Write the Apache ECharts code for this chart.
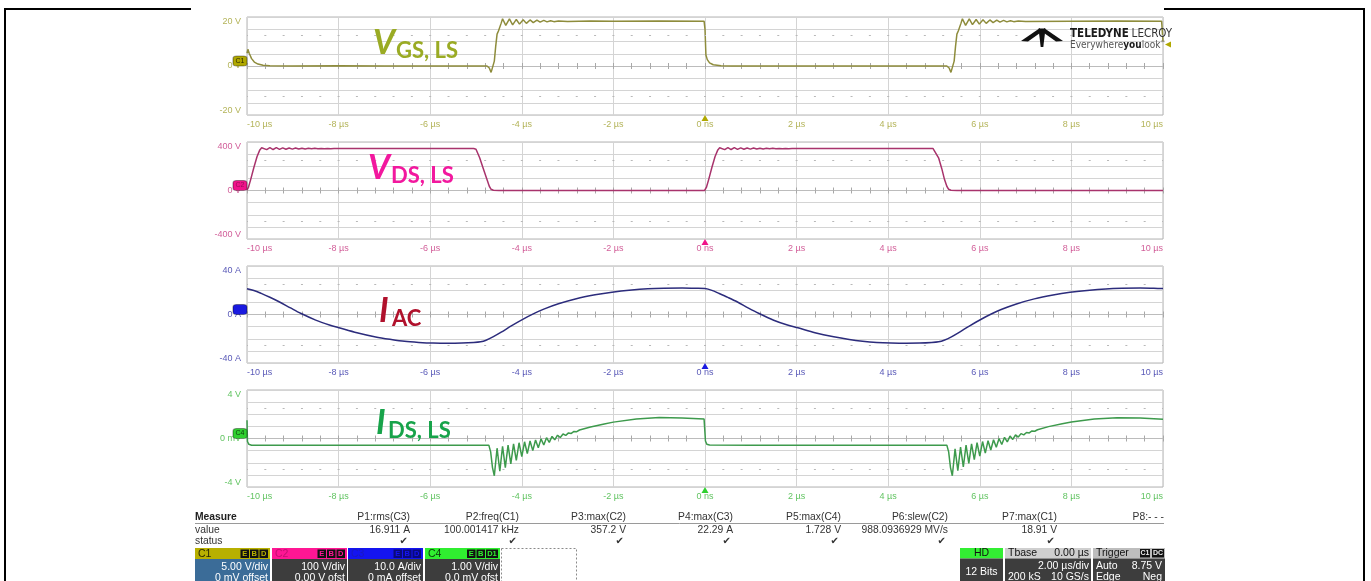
<!DOCTYPE html>
<html><head><meta charset="utf-8">
<script src="https://cdn.jsdelivr.net/npm/echarts@6/dist/echarts.min.js"></script>
<style>html,body{margin:0;padding:0;background:#fff}#c{width:1371px;height:581px}</style>
</head><body><div id="c"></div>
<script>
// ---------------- DATA (time in µs) ----------------
const timeTicks = [-10,-8,-6,-4,-2,0,2,4,6,8,10];
const xTickLabels = ['-10 µs','-8 µs','-6 µs','-4 µs','-2 µs','0 ns','2 µs','4 µs','6 µs','8 µs','10 µs'];
const vgsYLabels = ['20 V','0 V','-20 V'];
const vdsYLabels = ['400 V','0 V','-400 V'];
const iacYLabels = ['40 A','0 A','-40 A'];
const idsYLabels = ['4 V','0 mV','-4 V'];
const voltsPerDiv = [5, 100, 10, 1];
const triggerLevel = 8.75;

const vgsData = [
[-10,5.2],[-9.98,6.8],[-9.95,5.1],[-9.9,3.0],[-9.84,1.6],[-9.76,0.8],[-9.65,0.3],[-9.5,0.1],[-9,0],[-8,0.1],[-7,0],[-6,0.05],[-5,0],
[-4.76,0],[-4.71,-0.8],[-4.67,-2.6],[-4.63,-1.8],[-4.6,2],[-4.57,8],[-4.54,13],[-4.51,14.3],[-4.48,14.8],[-4.45,17.5],[-4.42,19.3],
[-4.35,16.6],[-4.27,19.2],[-4.2,16.8],[-4.12,19.0],[-4.05,17.1],[-3.97,18.9],[-3.9,17.4],[-3.82,18.8],[-3.75,17.7],[-3.67,18.7],[-3.6,17.9],[-3.52,18.6],[-3.45,18.0],[-3.37,18.5],[-3.3,18.1],[-3.2,18.4],[-3.0,18.2],[-2.5,18.35],[-2,18.3],[-1,18.35],[-0.02,18.3],
[0,15],[0.02,4.5],[0.05,2.6],[0.1,1.3],[0.18,0.5],[0.35,0.15],[0.6,0],[1,0.05],[2,0],[3,0.05],[4,0],[5.28,0],
[5.33,-0.8],[5.37,-2.6],[5.41,-1.8],[5.44,2],[5.47,8],[5.5,13],[5.53,14.3],[5.56,14.8],[5.59,17.5],[5.62,19.3],
[5.69,16.6],[5.77,19.2],[5.84,16.9],[5.92,19.0],[5.99,17.1],[6.07,18.9],[6.14,17.4],[6.22,18.8],[6.29,17.7],[6.37,18.7],[6.44,17.9],[6.52,18.6],[6.59,18.0],[6.67,18.5],[6.74,18.1],[6.84,18.4],[7,18.2],[8,18.3],[9,18.35],[9.97,18.3],[10,10]
];

const vdsData = [
[-10,2],[-9.97,25],[-9.92,90],[-9.85,190],[-9.78,280],[-9.72,335],[-9.68,352],[-9.64,357],
[-9.57,337],[-9.5,354],[-9.43,338],[-9.36,353],[-9.29,339],[-9.22,352],[-9.15,340],[-9.08,351],[-9.01,341],[-8.94,350],[-8.87,342],[-8.8,349],[-8.73,343],[-8.66,348],[-8.59,344],[-8.52,348],[-8.45,344],[-8.38,347],[-8.31,345],[-8.24,347],[-8.17,345],[-8.1,346.5],[-8,346],[-7,346],[-6,346],[-5.05,346],
[-5.0,340],[-4.92,270],[-4.84,180],[-4.76,90],[-4.71,35],[-4.67,10],[-4.62,2],[-4.5,0],[-3,1],[-1.5,0],[-0.01,0],
[0,2],[0.03,25],[0.08,90],[0.15,190],[0.22,280],[0.28,335],[0.32,352],[0.36,357],
[0.43,337],[0.5,354],[0.57,338],[0.64,353],[0.71,339],[0.78,352],[0.85,340],[0.92,351],[0.99,341],[1.06,350],[1.13,342],[1.2,349],[1.27,343],[1.34,348],[1.41,344],[1.48,348],[1.55,344],[1.62,347],[1.69,345],[1.76,347],[1.83,345],[1.9,346.5],[2,346],[3,346],[4,346],[4.98,346],
[5.02,340],[5.1,270],[5.17,180],[5.23,90],[5.28,35],[5.32,10],[5.37,2],[5.5,0],[7,1],[8.5,0],[10,0]
];

const iacData = [
[-10,21.3],[-9.85,19.8],[-9.69,17.4],[-9.5,14.2],[-9.3,10.5],[-9.05,5.4],[-8.83,1.0],[-8.5,-4.6],[-8.2,-8.6],[-7.97,-11.1],[-7.6,-15.0],[-7.19,-18.5],[-6.85,-20.6],[-6.56,-22.1],[-6.25,-23.0],[-5.94,-23.6],[-5.6,-23.8],[-5.31,-23.6],[-5.05,-23.1],[-4.9,-22.5],
[-4.78,-21.2],[-4.62,-18.3],[-4.45,-14.6],[-4.22,-9.2],[-3.98,-4.0],[-3.75,0.5],[-3.52,4.4],[-3.2,8.8],[-2.81,13.0],[-2.4,16.2],[-2.03,18.4],[-1.6,20.2],[-1.25,21.2],[-0.9,21.7],[-0.5,21.9],[-0.2,21.7],[0,21.4],
[0.15,19.9],[0.31,17.3],[0.5,14.1],[0.7,10.5],[0.95,5.3],[1.17,1.0],[1.5,-4.7],[1.8,-8.7],[2.03,-11.0],[2.4,-15.0],[2.81,-18.4],[3.15,-20.6],[3.44,-22.0],[3.75,-23.0],[4.06,-23.5],[4.4,-23.7],[4.69,-23.6],[4.95,-23.1],[5.1,-22.5],
[5.22,-21.2],[5.38,-18.4],[5.55,-14.7],[5.78,-9.3],[6.02,-4.1],[6.25,0.4],[6.48,4.3],[6.8,8.7],[7.19,12.9],[7.6,16.1],[7.97,18.3],[8.4,20.1],[8.75,21.1],[9.1,21.6],[9.5,21.8],[9.8,21.6],[10,21.4]
];

const idsData = [
[-10,1.5],[-9.99,-0.25],[-9.96,-0.48],[-9.9,-0.55],[-8,-0.55],[-6,-0.56],[-4.72,-0.55],[-4.68,-1.1],[-4.64,-2.4],[-4.6,-3.07],
[-4.54,-0.8],[-4.48,-2.7],[-4.42,-0.65],[-4.36,-2.4],[-4.3,-0.55],[-4.24,-2.1],[-4.18,-0.45],[-4.12,-1.8],[-4.06,-0.35],[-4.0,-1.5],[-3.94,-0.27],[-3.88,-1.24],[-3.82,-0.2],[-3.76,-1.0],[-3.7,-0.12],[-3.64,-0.77],[-3.58,-0.03],[-3.52,-0.54],[-3.46,0.07],[-3.4,-0.32],[-3.34,0.17],[-3.28,-0.11],[-3.22,0.27],[-3.16,0.08],[-3.1,0.37],[-3.04,0.26],[-2.98,0.46],[-2.92,0.42],[-2.86,0.58],[-2.8,0.56],[-2.74,0.7],
[-2.5,0.95],[-2.2,1.2],[-2,1.35],[-1.5,1.6],[-1,1.73],[-0.5,1.7],[-0.02,1.6],
[0,1.55],[0.01,-0.2],[0.04,-0.47],[0.1,-0.54],[1,-0.55],[3,-0.56],[5.28,-0.55],[5.32,-1.1],[5.36,-2.4],[5.4,-3.07],
[5.46,-0.85],[5.52,-2.65],[5.58,-0.7],[5.64,-2.35],[5.7,-0.55],[5.76,-2.05],[5.82,-0.45],[5.88,-1.75],[5.94,-0.35],[6.0,-1.45],[6.06,-0.25],[6.12,-1.2],[6.18,-0.18],[6.24,-0.95],[6.3,-0.1],[6.36,-0.72],[6.42,0],[6.48,-0.5],[6.54,0.1],[6.6,-0.28],[6.66,0.2],[6.72,-0.08],[6.78,0.3],[6.84,0.12],[6.9,0.4],[6.96,0.3],[7.02,0.5],[7.08,0.46],[7.14,0.62],[7.2,0.6],[7.26,0.72],
[7.5,0.98],[7.8,1.22],[8,1.36],[8.5,1.6],[9,1.72],[9.5,1.7],[10,1.58]
];

const measureHeaders = ['P1:rms(C3)','P2:freq(C1)','P3:max(C2)','P4:max(C3)','P5:max(C4)','P6:slew(C2)','P7:max(C1)','P8:- - -'];
const measureValues  = ['16.911 A','100.001417 kHz','357.2 V','22.29 A','1.728 V','988.0936929 MV/s','18.91 V',''];
const measureStatus  = [true,true,true,true,true,true,true,false];
const chanNames  = ['C1','C2','C3','C4'];
const chanScale  = ['5.00 V/div','100 V/div','10.0 A/div','1.00 V/div'];
const chanOffset = ['0 mV offset','0.00 V ofst','0 mA offset','0.0 mV ofst'];
const chanFlags  = [['E','B','D'],['E','B','D'],['E','B','D'],['E','B','D1']];

// ---------------- STYLE / LAYOUT ----------------
const FONT = '"Liberation Sans", Arial, sans-serif';
const NARROW = '"Liberation Sans Narrow","DejaVu Sans Condensed","Liberation Sans",sans-serif';
const ANNO = 'Lato, "Open Sans", sans-serif';
const panelTops = [17, 142, 266, 390];
const panelHeights = [98, 97, 97, 97];
const traceColors = ['#8e8c3c', '#a8336c', '#2c2c7c', '#3d9a4c'];
const labelColors = ['#b4b45a', '#d2609a', '#5a5ab8', '#62c462'];
const badgeColors = ['#b0a800', '#f0148a', '#1a1ae0', '#2fd02f'];
const badgeText = ['#2c2a00', '#9c0c5a', '#1a1ae0', '#0c3c0c'];
const datasets = [vgsData, vdsData, iacData, idsData];
const yLabelSets = [vgsYLabels, vdsYLabels, iacYLabels, idsYLabels];

const grid = [], xAxis = [], yAxis = [], series = [];
for (let k = 0; k < 4; k++) {
  const div = voltsPerDiv[k], ymax = 4 * div, ymin = -4 * div;
  const labs = yLabelSets[k];
  grid.push({left: 247, width: 916, top: panelTops[k], height: panelHeights[k], show: true,
    borderColor: '#b4b4b4', borderWidth: 1, backgroundColor: '#fff'});
  xAxis.push({gridIndex: k, type: 'value', min: -10, max: 10, interval: 2, position: 'bottom',
    axisLine: {show: false, onZero: false}, axisTick: {show: false},
    splitLine: {show: true, lineStyle: {color: '#d4d4d4', width: 1}},
    axisLabel: {color: labelColors[k], fontSize: 9, fontFamily: FONT, margin: 5,
      alignMinLabel: 'left', alignMaxLabel: 'right',
      formatter: v => { const i = timeTicks.indexOf(Math.round(v)); return i >= 0 ? xTickLabels[i] : ''; }}});
  xAxis.push({gridIndex: k, type: 'value', min: -10, max: 10, interval: 2, position: 'bottom',
    axisLine: {show: true, onZero: true, onZeroAxisIndex: k, lineStyle: {color: '#bcbcbc', width: 1}},
    axisTick: {show: true, inside: true, length: 3, lineStyle: {color: '#a8a8a8'}},
    minorTick: {show: true, splitNumber: 5, length: 3, lineStyle: {color: '#a8a8a8'}},
    axisLabel: {show: false}, splitLine: {show: false}});
  xAxis.push({gridIndex: k, type: 'value', min: -10, max: 10, interval: 2, position: 'bottom',
    axisLine: {show: false, onZero: true, onZeroAxisIndex: k},
    axisTick: {show: true, inside: false, length: 3, lineStyle: {color: '#a8a8a8'}},
    minorTick: {show: true, splitNumber: 5, length: 3, lineStyle: {color: '#a8a8a8'}},
    axisLabel: {show: false}, splitLine: {show: false}});
  yAxis.push({gridIndex: k, type: 'value', min: ymin, max: ymax, interval: div,
    axisLine: {show: false, onZero: false}, axisTick: {show: false},
    splitLine: {show: true, lineStyle: {color: '#d4d4d4', width: 1}},
    axisLabel: {color: labelColors[k], fontSize: 9, fontFamily: FONT, margin: 6,
      verticalAlignMaxLabel: 'top', verticalAlignMinLabel: 'bottom',
      formatter: v => v === ymax ? labs[0] : (v === 0 ? labs[1] : (v === ymin ? labs[2] : ''))}});
  const mp = [
    {coord: [-10, 0], symbol: 'roundRect', symbolSize: [14, 10], symbolOffset: [-7, -5],
      itemStyle: {color: badgeColors[k], borderColor: 'rgba(0,0,0,0.35)', borderWidth: 1},
      label: {show: true, position: 'inside', formatter: chanNames[k], fontSize: 7, fontFamily: FONT, color: badgeText[k]}},
    {coord: [0, ymin], symbol: 'triangle', symbolSize: [7, 6], symbolOffset: [0, 3],
      itemStyle: {color: badgeColors[k]}, label: {show: false}}
  ];
  if (k === 0) mp.push({coord: [10, triggerLevel], symbol: 'triangle', symbolRotate: 90, symbolSize: [6, 6], symbolOffset: [5, 0],
      itemStyle: {color: '#b0a800'}, label: {show: false}});
  series.push({type: 'line', xAxisIndex: 3 * k, yAxisIndex: k, data: datasets[k], showSymbol: false,
    smooth: k === 2 ? 0.3 : false, animation: false, silent: true,
    lineStyle: {color: traceColors[k], width: 1.5}, z: 3,
    markLine: {silent: true, symbol: 'none', animation: false, label: {show: false},
      lineStyle: {color: '#b8b8b8', width: 1, type: [2, 16.32], dashOffset: 1},
      data: [{yAxis: 2.5 * div}, {yAxis: -2.5 * div}]},
    markPoint: {silent: true, animation: false, data: mp}});
}

// ---------------- GRAPHICS (frame, annotations, logo, table) ----------------
const G = [];
function T(x, y, text, o) {
  o = o || {};
  G.push({type: 'text', x: x, y: y, silent: true, z: o.z || 20,
    style: {text: text, fill: o.fill || '#222', fontSize: o.size || 10.3, fontFamily: o.family || FONT,
      fontWeight: o.weight || 'normal', fontStyle: o.style || 'normal',
      align: o.align || 'left', verticalAlign: 'middle', rich: o.rich}});
}
function R(x, y, w, h, fill, o) {
  o = o || {};
  G.push({type: 'rect', silent: true, z: o.z || 15, shape: {x: x, y: y, width: w, height: h},
    style: {fill: fill, stroke: o.stroke || null, lineWidth: o.lw || 1, lineDash: o.dash || null}});
}
function L(x1, y1, x2, y2, c, w) {
  G.push({type: 'line', silent: true, z: 15, shape: {x1: x1, y1: y1, x2: x2, y2: y2}, style: {stroke: c, lineWidth: w}});
}
// frame
L(5, 9, 5, 581, '#000', 2);
L(1364, 9, 1364, 581, '#000', 2);
L(4, 9, 191, 9, '#000', 2);
L(1164, 9, 1365, 9, '#000', 2);

// annotations
const annos = [
  {c: '#9aab24', main: 'V', sub: 'GS, LS', mx: 373, my: 43, sx: 396, sy: 51},
  {c: '#f2189e', main: 'V', sub: 'DS, LS', mx: 368, my: 168.5, sx: 391, sy: 176},
  {c: '#b0112c', main: 'I', sub: 'AC', mx: 379, my: 311, sx: 392, sy: 318.5},
  {c: '#17a34a', main: 'I', sub: 'DS, LS', mx: 376, my: 423.5, sx: 388, sy: 431}
];
annos.forEach(a => {
  T(a.mx, a.my, a.main, {fill: a.c, size: 34, family: ANNO, weight: 'bold', style: 'italic'});
  T(a.sx, a.sy, a.sub, {fill: a.c, size: 22, family: ANNO, weight: 'bold'});
});

// logo
G.push({type: 'polygon', silent: true, z: 15, shape: {points: [[1040,28],[1021,41],[1028,41.5],[1040,33]]}, style: {fill: '#111'}});
G.push({type: 'polygon', silent: true, z: 15, shape: {points: [[1044,28],[1063,41],[1056,41.5],[1044,33]]}, style: {fill: '#111'}});
G.push({type: 'polygon', silent: true, z: 15, shape: {points: [[1038.5,28.5],[1045.5,28.5],[1043.3,47],[1040.7,47]]}, style: {fill: '#111'}});
T(1070, 34.5, '{a|TELEDYNE} {b|LECROY}', {rich: {
  a: {fontFamily: NARROW, fontSize: 11.5, fontWeight: 'bold', fill: '#1a1a1a'},
  b: {fontFamily: NARROW, fontSize: 11.5, fill: '#333'}}});
T(1070, 45, '{a|Everywhere}{b|you}{a|look}{c|™}', {rich: {
  a: {fontFamily: NARROW, fontSize: 10, fill: '#555'},
  b: {fontFamily: NARROW, fontSize: 10, fontWeight: 'bold', fill: '#1a1a1a'},
  c: {fontFamily: NARROW, fontSize: 6, fill: '#555', verticalAlign: 'top'}}});

// measure table
const colRight = [410, 519, 626, 733, 841, 948, 1057, 1164];
T(195, 517.5, 'Measure', {weight: 'bold'});
L(195, 523.5, 1164, 523.5, '#9a9a9a', 1);
T(195, 530, 'value', {fill: '#333'});
T(195, 541.5, 'status', {fill: '#333'});
for (let i = 0; i < 8; i++) {
  T(colRight[i], 517.5, measureHeaders[i], {align: 'right', fill: '#333'});
  if (measureValues[i]) T(colRight[i], 530, measureValues[i], {align: 'right', fill: '#333'});
  if (measureStatus[i]) T(colRight[i] - 2, 541.5, '✔', {align: 'right', fill: '#333', size: 10, family: '"DejaVu Sans", sans-serif'});
}

// channel boxes
const chanX = [195, 272, 348, 425];
const chanHead = ['#b8b000', '#ff1694', '#1414f0', '#30ee30'];
const chanHeadTxt = ['#2a2a00', '#c40f72', '#1a1ac0', '#0a3a0a'];
const chanBody = ['#3b6c98', '#3d3d3d', '#3d3d3d', '#3d3d3d'];
const flagBg = ['#111', '#111', '#0a0a7a', '#111'];
for (let i = 0; i < 4; i++) {
  const x = chanX[i];
  R(x, 548, 75, 11, chanHead[i]);
  R(x, 559, 75, 22, chanBody[i]);
  T(x + 3, 553.8, chanNames[i], {fill: chanHeadTxt[i], size: 10.5});
  let fx = x + 73;
  const fl = chanFlags[i];
  for (let j = fl.length - 1; j >= 0; j--) {
    const w = fl[j].length > 1 ? 12 : 8.5;
    fx -= w;
    R(fx, 549.5, w, 8.5, flagBg[i]);
    T(fx + w / 2, 553.8, fl[j], {align: 'center', fill: chanHead[i], size: 7.5, weight: 'bold'});
    fx -= 1;
  }
  T(x + 73, 567, chanScale[i], {align: 'right', fill: '#fff', size: 10.5});
  T(x + 73, 578.5, chanOffset[i], {align: 'right', fill: '#fff', size: 10.5});
}
R(501.5, 548.5, 75, 40, null, {stroke: '#8a8a8a', dash: [2, 2]});

// right info boxes
R(960, 548, 43, 10.5, '#33ee33');
R(960, 558.5, 43, 22.5, '#3d3d3d');
T(981.5, 553.5, 'HD', {align: 'center', fill: '#111', size: 10.5});
T(981.5, 572.5, '12 Bits', {align: 'center', fill: '#fff', size: 10.5});
R(1005, 548, 86, 10.5, '#cfcfcf');
R(1005, 558.5, 86, 22.5, '#3d3d3d');
T(1008, 553.5, 'Tbase', {fill: '#111', size: 10.5});
T(1089, 553.5, '0.00 µs', {align: 'right', fill: '#111', size: 10.5});
T(1089, 566.5, '2.00 µs/div', {align: 'right', fill: '#fff', size: 10.5});
T(1008, 577.5, '200 kS', {fill: '#fff', size: 10.5});
T(1089, 577.5, '10 GS/s', {align: 'right', fill: '#fff', size: 10.5});
R(1093, 548, 72, 10.5, '#bdbdbd');
R(1093, 558.5, 72, 22.5, '#3d3d3d');
T(1096, 553.5, 'Trigger', {fill: '#111', size: 10.5});
R(1140, 549, 10, 8.5, '#111');
T(1145, 553.5, 'C1', {align: 'center', fill: '#eee', size: 7, weight: 'bold'});
R(1152, 549, 12, 8.5, '#111');
T(1158, 553.5, 'DC', {align: 'center', fill: '#eee', size: 7, weight: 'bold'});
T(1096, 566.5, 'Auto', {fill: '#fff', size: 10.5});
T(1162, 566.5, '8.75 V', {align: 'right', fill: '#fff', size: 10.5});
T(1096, 577.5, 'Edge', {fill: '#fff', size: 10.5});
T(1162, 577.5, 'Neg', {align: 'right', fill: '#fff', size: 10.5});

const chart = echarts.init(document.getElementById('c'), null, {renderer: 'canvas', width: 1371, height: 581});
chart.setOption({
  animation: false,
  backgroundColor: '#fff',
  grid: grid, xAxis: xAxis, yAxis: yAxis, series: series,
  graphic: {elements: G}
});
</script>
</body></html>
